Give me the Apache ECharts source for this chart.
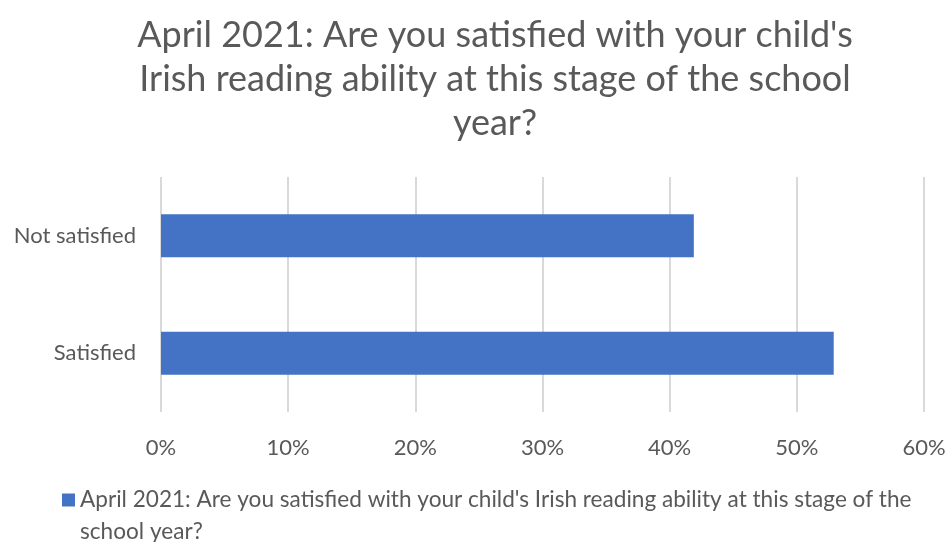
<!DOCTYPE html>
<html>
<head>
<meta charset="utf-8">
<script src="https://cdn.jsdelivr.net/npm/echarts@6/dist/echarts.min.js"></script>
<style>
  html, body { margin: 0; padding: 0; background: #ffffff; }
  #chart { width: 950px; height: 542px; }
</style>
</head>
<body>
<div id="chart"></div>
<script>
// Survey responses, April 2021
const seriesName = "April 2021: Are you satisfied with your child's Irish reading ability at this stage of the school year?";
const titleLines = [
  "April 2021: Are you satisfied with your child's",
  "Irish reading ability at this stage of the school",
  "year?"
];
const categories = ["Satisfied", "Not satisfied"];
const shares = [52.9, 41.9];   // percent of respondents
const axisMax = 60;
const axisStep = 10;

const fontFamily = "Lato, 'Open Sans', sans-serif";
const textGray = "#595959";

const chart = echarts.init(document.getElementById('chart'), null, { renderer: 'canvas' });
chart.setOption({
  backgroundColor: '#ffffff',
  animation: false,
  title: {
    text: titleLines.join('\n'),
    left: 490,
    textAlign: 'center',
    top: 8,
    textStyle: {
      fontFamily: fontFamily,
      fontSize: 36,
      fontWeight: 'normal',
      color: textGray,
      lineHeight: 44
    }
  },
  legend: {
    left: 57,
    top: 447,
    itemWidth: 13,
    itemHeight: 13,
    itemGap: 0,
    icon: 'rect',
    // a leading blank line keeps the key square level with the first text line
    formatter: name => '\n' + name,
    textStyle: {
      fontFamily: fontFamily,
      fontSize: 22.6,
      color: textGray,
      lineHeight: 32,
      width: 850,
      overflow: 'break'
    },
    data: [seriesName]
  },
  grid: {
    left: 161,
    right: 26,
    top: 177,
    bottom: 130,
    containLabel: false
  },
  xAxis: {
    type: 'value',
    min: 0,
    max: axisMax,
    interval: axisStep,
    axisLine: { show: false },
    axisTick: { show: false },
    splitLine: { lineStyle: { color: '#d9d9d9', width: 2 } },
    axisLabel: {
      formatter: v => v + '%',
      fontFamily: fontFamily,
      fontSize: 22,
      color: textGray,
      margin: 25
    }
  },
  yAxis: {
    type: 'category',
    data: categories,
    axisLine: { show: false },
    axisTick: { show: false },
    axisLabel: {
      fontFamily: fontFamily,
      fontSize: 22,
      color: textGray,
      margin: 25
    }
  },
  series: [{
    name: seriesName,
    type: 'bar',
    data: shares,
    barWidth: 43,
    itemStyle: { color: '#4472c4' }
  }]
});
</script>
</body>
</html>
